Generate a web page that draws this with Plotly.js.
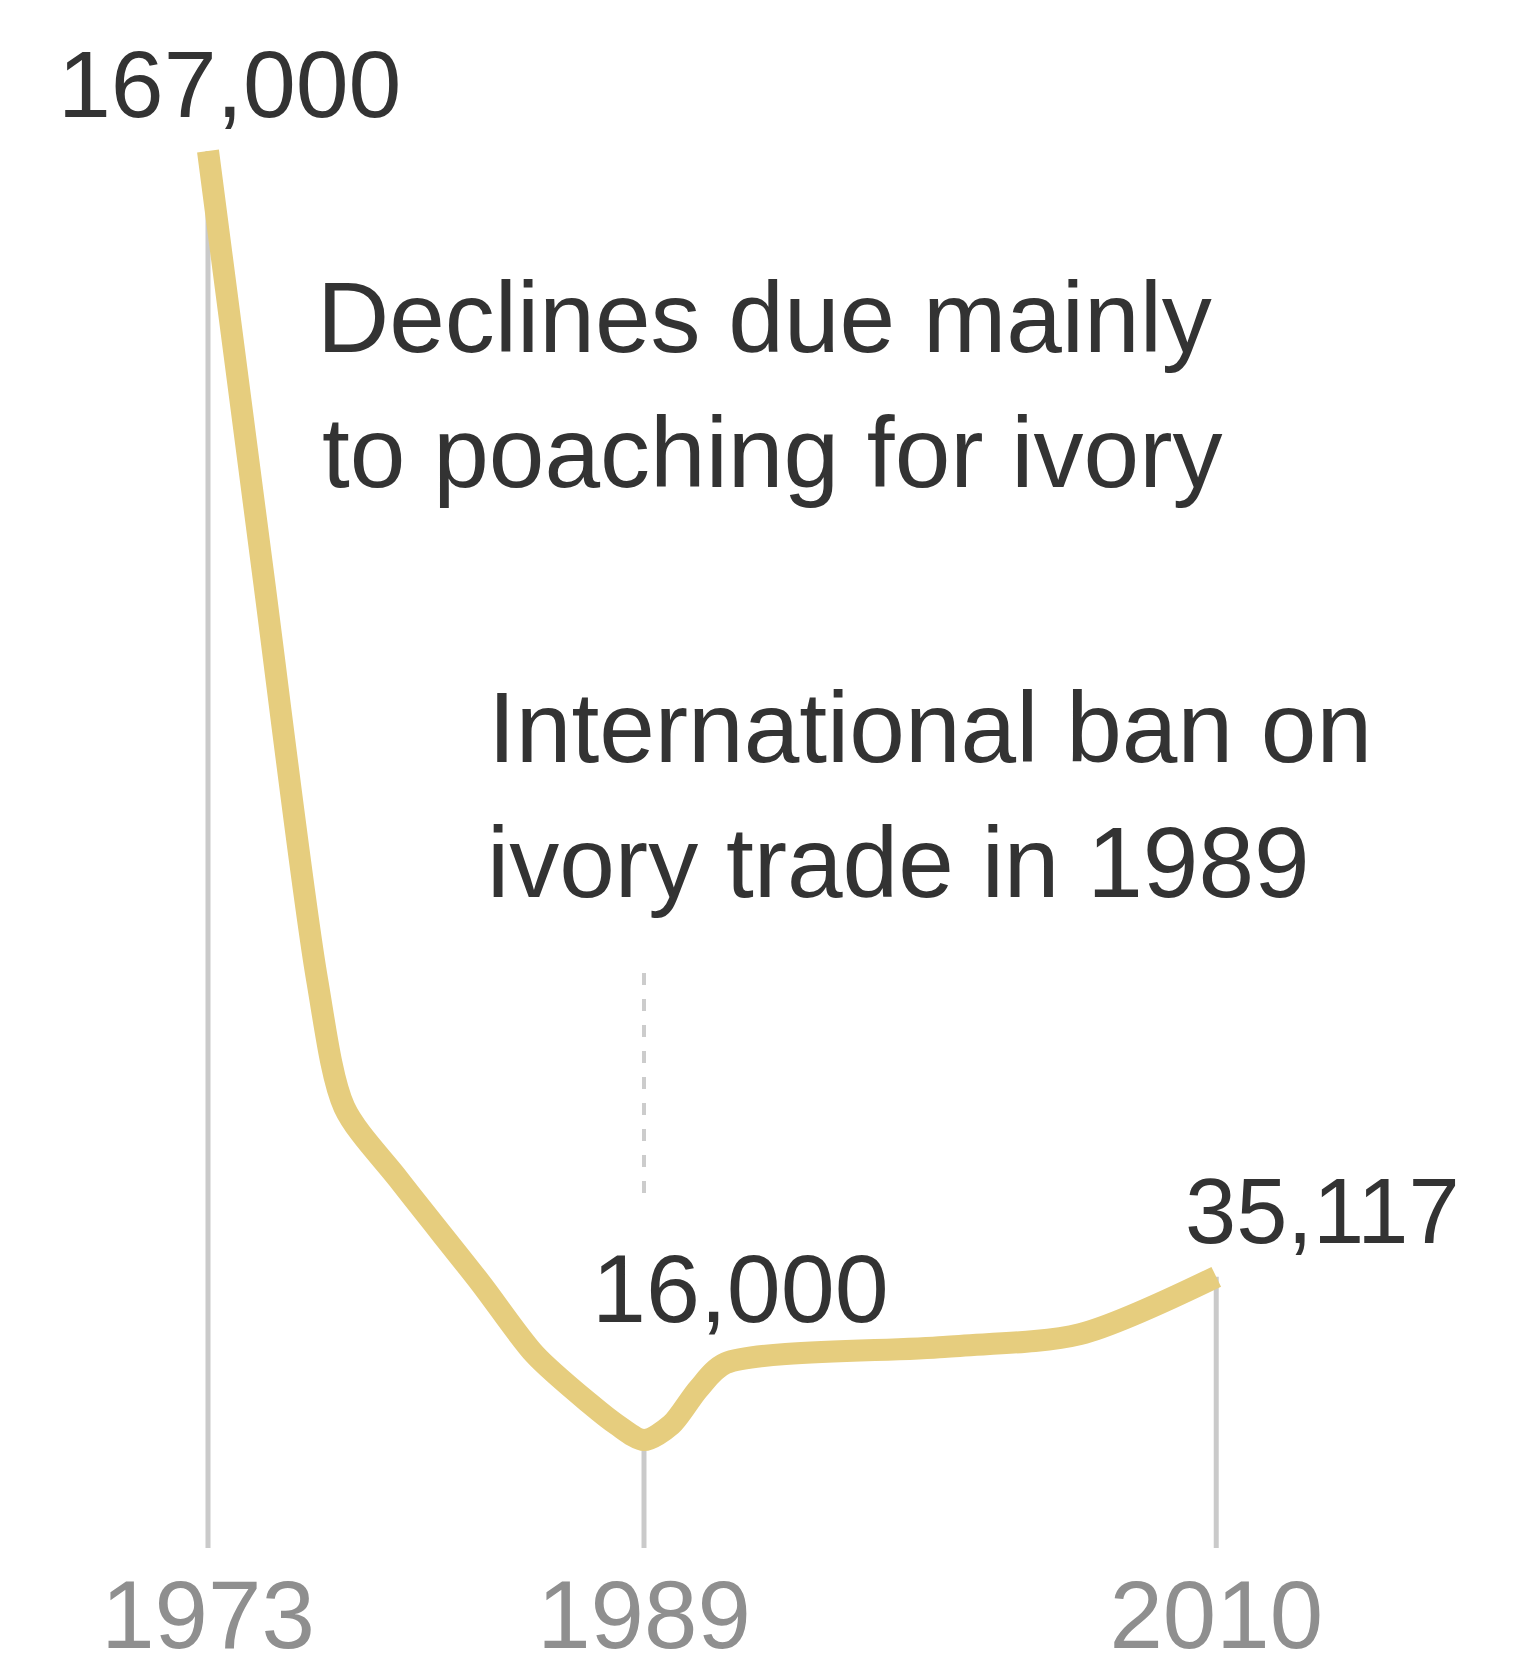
<!DOCTYPE html>
<html><head><meta charset="utf-8">
<script src="https://cdn.plot.ly/plotly-3.0.1.min.js"></script>
<style>html,body{margin:0;padding:0;background:#fff;} #chart{width:1537px;height:1668px;}</style>
</head><body><div id="chart"></div>
<script>
// Data
const years      = [1973, 1975, 1977, 1978, 1980, 1983, 1985, 1987, 1988, 1989, 1990, 1991, 1992, 2000, 2005, 2010];
const elephants  = [167000, 118000, 70000, 55000, 46500, 34400, 26000, 20300, 17800, 16000, 17800, 22000, 25000, 26900, 28400, 35117];
const markedYears  = [1973, 1989, 2010];
const markedValues = [167000, 16000, 35117];
const valueLabels  = ["167,000", "16,000", "35,117"];
const tickLabels   = ["1973", "1989", "2010"];
const banYear = 1989;
const noteDeclines = ["Declines due mainly", "to poaching for ivory"];
const noteBan      = ["International ban on", "ivory trade in 1989"];

// layout constants
const W = 1537, H = 1668;
const M = {l: 0, r: 0, t: 40, b: 120};
const xRange = [1965.367, 2021.771];
const yRange = [3350, 180000];
const FONT = "Liberation Sans, Arial, Helvetica, sans-serif";
const plotH = H - M.t - M.b;
const px = x => x / W;                       // pixel -> paper x
const py = y => (H - M.b - y) / plotH;       // pixel -> paper y

const traces = [];
// grey drop lines from the marked points to the bottom
markedYears.forEach((yr, i) => {
  traces.push({
    x: [yr, yr], y: [yRange[0], markedValues[i]],
    mode: "lines", line: {color: "#cacaca", width: 5},
    hoverinfo: "skip", showlegend: false
  });
});
traces.push({
  x: years, y: elephants, mode: "lines",
  line: {color: "#e6cd7e", width: 22, shape: "spline", smoothing: 0.8},
  hoverinfo: "skip", showlegend: false
});

const valuePos  = [ {x: 56, y: 84}, {x: 590, y: 1288}, {x: 1183, y: 1211} ];
const valueSize = [95, 97, 92];
const annotations = [];
valueLabels.forEach((t, i) => {
  annotations.push({xref: "paper", yref: "paper", x: px(valuePos[i].x), y: py(valuePos[i].y),
    xanchor: "left", yanchor: "middle", text: t, showarrow: false,
    font: {family: FONT, size: valueSize[i], color: "#333333"}});
});
const declPos = [ {x: 315, y: 317}, {x: 320, y: 452} ];
noteDeclines.forEach((t, i) => {
  annotations.push({xref: "paper", yref: "paper", x: px(declPos[i].x), y: py(declPos[i].y),
    xanchor: "left", yanchor: "middle", text: t, showarrow: false,
    font: {family: FONT, size: 100, color: "#333333"}});
});
const banPos = [ {x: 486, y: 727}, {x: 485, y: 862} ];
noteBan.forEach((t, i) => {
  annotations.push({xref: "paper", yref: "paper", x: px(banPos[i].x), y: py(banPos[i].y),
    xanchor: "left", yanchor: "middle", text: t, showarrow: false,
    font: {family: FONT, size: 100, color: "#333333"}});
});

const shapes = [{
  type: "line", xref: "x", yref: "paper", layer: "below",
  x0: banYear, x1: banYear, y0: py(973), y1: py(1202),
  line: {color: "#cccccc", width: 4, dash: "12px,14px"}
}];

const layout = {
  width: W, height: H, margin: M,
  paper_bgcolor: "#ffffff", plot_bgcolor: "#ffffff",
  showlegend: false, hovermode: false,
  xaxis: {range: xRange, showgrid: false, zeroline: false, showline: false, ticks: "",
    tickmode: "array", tickvals: markedYears, ticktext: tickLabels, ticklabelstandoff: 3,
    tickfont: {family: FONT, size: 96, color: "#8f8f8f"}},
  yaxis: {range: yRange, visible: false, showgrid: false, zeroline: false},
  annotations: annotations, shapes: shapes
};
Plotly.newPlot("chart", traces, layout, {displayModeBar: false, staticPlot: true});
</script>
</body></html>
